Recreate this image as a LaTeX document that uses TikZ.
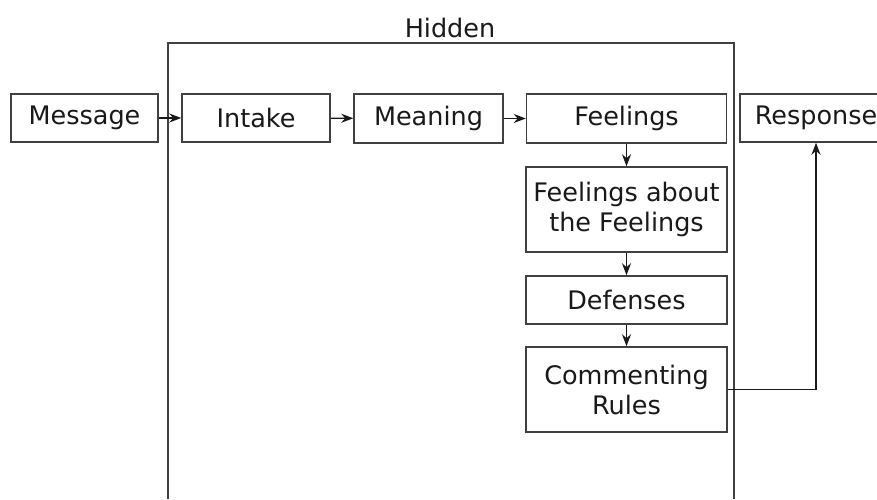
\documentclass[tikz,border=0pt]{standalone}
\usepackage{fontspec}
\setmainfont{DejaVu Sans}
\usetikzlibrary{positioning,arrows.meta}

\begin{document}
\begin{tikzpicture}[x=1pt,y=-1pt,
	every node/.style={font=\fontsize{25.5}{30}\selectfont,text=black!90},
	stage/.style={draw=black!75,line width=1.5pt,inner sep=0pt,align=center},
	link/.style={line width=1.4pt,draw=black!90,-{Stealth[length=12pt,width=9pt]}}]

		\useasboundingbox (0,0) rectangle (877,499);
		\clip (0,0) rectangle (877,499);

		%hidden area
		\draw[black!75,line width=1.8pt] (168,499) -- (168,43) -- (734,43) -- (734,499);
		\node (hidden) at (450,28) {Hidden};

		%top row
		\node[stage,minimum width=147pt,minimum height=48pt] (msg) at (84.5,118) {Message};
		\node[stage,minimum width=148pt,minimum height=48pt] (intake) at (256,118) {Intake};
		\node[stage,minimum width=149pt,minimum height=49pt] (meaning) at (428.5,118.5) {Meaning};
		\node[stage,minimum width=200pt,minimum height=49pt] (feel) at (626.5,118.5) {Feelings};
		\node[stage,minimum width=152pt,minimum height=48pt] (resp) at (816,118) {Response};

		%column
		\node[stage,minimum width=201pt,minimum height=85pt] (feelfeel) at (626.5,209.5) {Feelings about\\the Feelings};
		\node[stage,minimum width=201pt,minimum height=48pt] (def) at (626.5,300) {Defenses};
		\node[stage,minimum width=201pt,minimum height=85pt] (rules) at (626.5,389.5) {Commenting\\Rules};

		%edges
		\draw[link] (msg) -- (intake);
		\draw[link] (intake) -- (meaning);
		\draw[link] (meaning) -- (feel);
		\draw[link] (feel) -- (feelfeel);
		\draw[link] (feelfeel) -- (def);
		\draw[link] (def) -- (rules);
		\draw[link] (rules.east) -| (resp.south);

\end{tikzpicture}
\end{document}
